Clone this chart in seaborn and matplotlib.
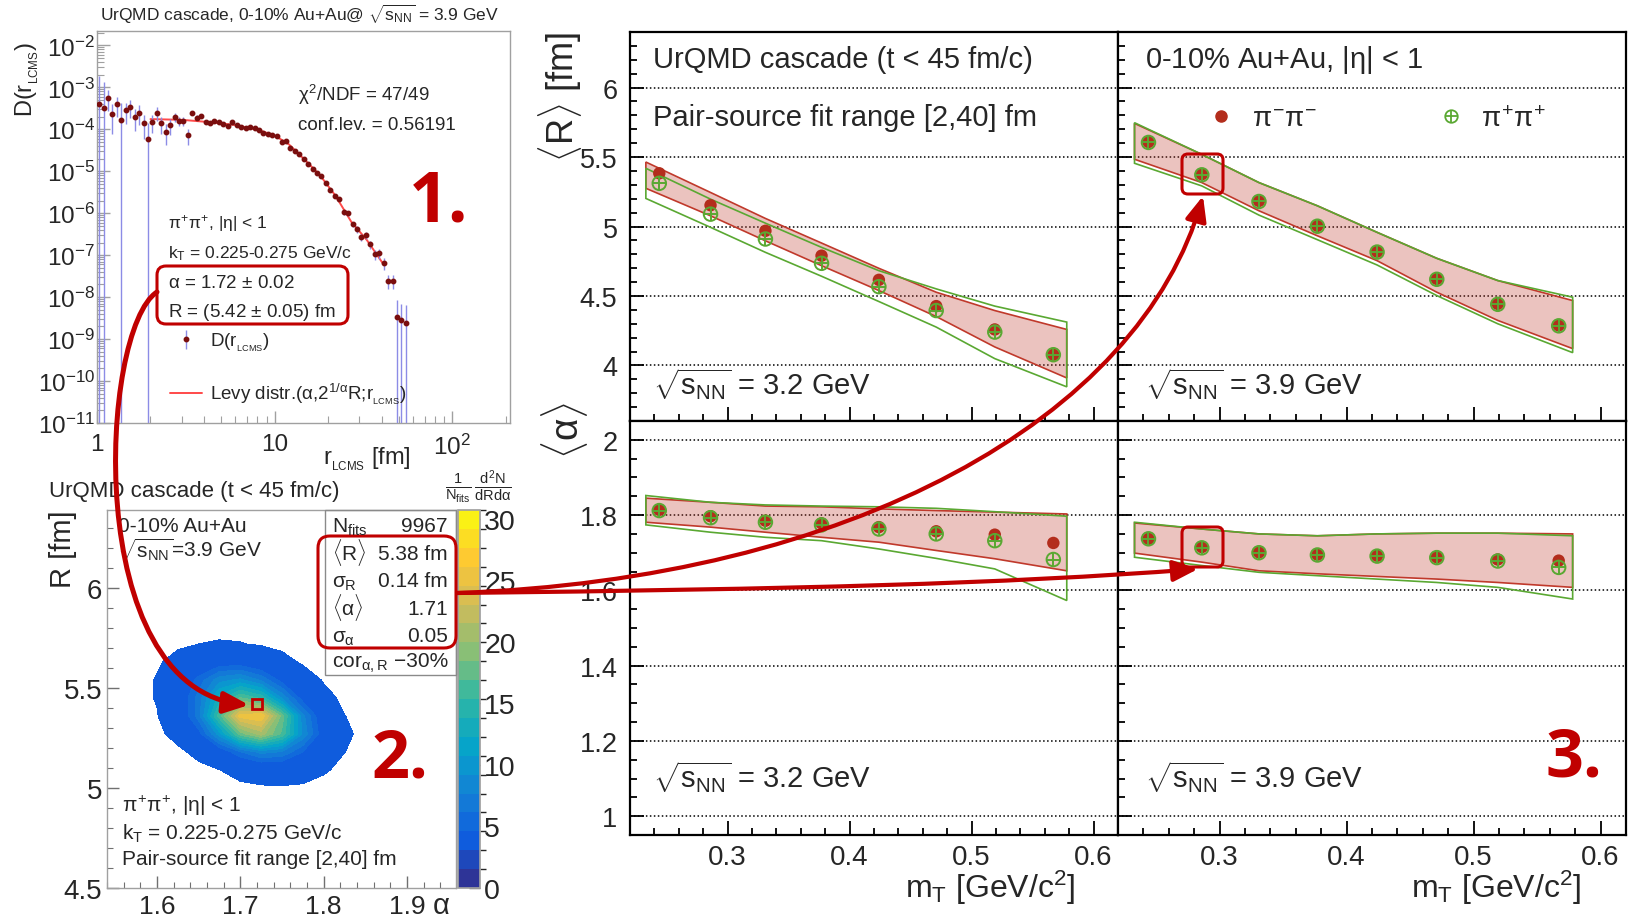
import numpy as np
import matplotlib.pyplot as plt
import seaborn as sns
from matplotlib.colors import LinearSegmentedColormap, ListedColormap, BoundaryNorm
from matplotlib.cm import ScalarMappable
from matplotlib.patches import FancyArrowPatch, FancyBboxPatch, Rectangle
from matplotlib.path import Path
from matplotlib.lines import Line2D
from matplotlib.ticker import (FixedLocator, MultipleLocator, FuncFormatter,
                               NullFormatter, LogLocator)

sns.set_theme(style="ticks")
plt.rcParams["font.family"] = ["Liberation Sans", "DejaVu Sans"]
plt.rcParams["mathtext.fontset"] = "custom"
plt.rcParams["mathtext.rm"] = "Liberation Sans"
plt.rcParams["mathtext.it"] = "Liberation Sans"
plt.rcParams["mathtext.bf"] = "Liberation Sans:bold"
plt.rcParams["mathtext.sf"] = "Liberation Sans"

W, H = 1631, 920
RED = "#c00000"
PT_RED = "#b32d1c"
BAND_RED = "#c0392b"
GREEN = "#5aa832"
MAROON = "#7a0e0e"
ERR_BLUE = "#8c8ce6"
FIT_RED = "#ff4a4a"
FRAME_GRAY = "#a0a0a0"

# ---------------- panel 1: pair-source distribution ----------------
r_lcms = [1.026, 1.09, 1.153, 1.22, 1.29, 1.371, 1.45, 1.535, 1.63, 1.725,
          1.832, 1.94, 2.05, 2.17, 2.30, 2.44, 2.58, 2.73, 2.90, 3.06,
          3.26, 3.44, 3.64, 3.85, 4.09, 4.33, 4.58, 4.87, 5.15, 5.45,
          5.78, 6.12, 6.48, 6.88, 7.28, 7.70, 8.18, 8.65, 9.15, 9.72,
          10.28, 10.93, 11.56, 12.23, 12.94, 13.74, 14.53, 15.37, 16.34, 17.28,
          18.28, 19.42, 20.55, 21.73, 23.08, 24.43, 25.83, 27.45, 29.04, 30.71,
          32.63, 34.51, 36.51, 38.80, 41.04, 43.41, 46.1, 48.8, 51.6, 54.6]
D_vals = [3.94e-4, 3.28e-4, 5.68e-4, 2.36e-4, 3.94e-4, 1.67e-4, 2.83e-4, 3.47e-4, 2.0e-4, 2.49e-4,
          1.39e-4, 5.78e-5, 1.50e-4, 2.49e-4, 1.39e-4, 8.8e-5, 1.24e-4, 2.0e-4, 1.58e-4, 1.58e-4,
          7.33e-5, 2.49e-4, 1.90e-4, 2.08e-4, 1.50e-4, 1.44e-4, 1.55e-4, 1.52e-4, 1.32e-4, 1.20e-4,
          1.52e-4, 1.24e-4, 1.12e-4, 1.10e-4, 1.12e-4, 1.10e-4, 9.46e-5, 8.33e-5, 7.89e-5, 7.2e-5,
          6.94e-5, 5.08e-5, 5.27e-5, 3.53e-5, 3.05e-5, 2.54e-5, 2.0e-5, 1.47e-5, 1.12e-5, 8.96e-6,
          7.74e-6, 5.37e-6, 3.53e-6, 2.59e-6, 2.15e-6, 1.04e-6, 1.0e-6, 5.47e-7, 4.16e-7, 2.64e-7,
          2.99e-7, 1.83e-7, 1.06e-7, 1.12e-7, 6.34e-8, 2.45e-8, 2.45e-8, 3.4e-9, 2.88e-9, 2.45e-9]
D_err = [1.5e-3, 1.0e-3, 3.0e-4, 1.6e-4, 2.0e-4, 2.5e-4, 1.5e-4, 1.6e-4, 1.1e-4, 1.2e-4,
         8e-5, 8e-5, 7e-5, 9e-5, 6e-5, 4.5e-5, 5e-5, 5e-5, 4e-5, 3.5e-5,
         3e-5, 3e-5, 2.5e-5, 2.2e-5, 1.8e-5, 1.5e-5, 1.4e-5, 1.2e-5, 1.0e-5, 9e-6,
         9e-6, 7e-6, 6e-6, 6e-6, 5e-6, 5e-6, 4e-6, 4e-6, 3.5e-6, 3e-6,
         3e-6, 2.5e-6, 2.5e-6, 1.8e-6, 1.6e-6, 1.4e-6, 1.1e-6, 9e-7, 7e-7, 6e-7,
         5e-7, 4e-7, 3e-7, 2.5e-7, 2.2e-7, 1.3e-7, 1.3e-7, 8e-8, 7e-8, 5e-8,
         6e-8, 4e-8, 3e-8, 3e-8, 2e-8, 9e-9, 9e-9, 5e-9, 4e-9, 4e-9]
fit_r = [2.0, 3.0, 4.0, 5.0, 6.0, 8.0, 10.0, 12.0, 15.0, 18.0, 22.0, 27.0, 33.0, 41.0]
fit_D = [1.75e-4, 1.68e-4, 1.52e-4, 1.38e-4, 1.26e-4, 9.8e-5, 7.1e-5, 4.4e-5, 1.75e-5,
         8.0e-6, 2.6e-6, 6.2e-7, 2.3e-7, 6.0e-8]

# ---------------- panel 2: distribution of fit results ----------------
alpha_grid = [1.575, 1.600, 1.625, 1.650, 1.675, 1.700, 1.725, 1.750, 1.775, 1.800, 1.825, 1.850, 1.875]
R_grid = [4.91, 5.00, 5.09, 5.18, 5.27, 5.36, 5.45, 5.54, 5.63, 5.72, 5.81]
density = [
    [0, 0, 0, 0, 0, 0, 0, 0, 0, 0, 0, 0, 0],
    [0, 0, 0, 0.01, 0.05, 0.13, 0.24, 0.29, 0.24, 0.13, 0.05, 0.01, 0],
    [0, 0, 0.03, 0.14, 0.48, 1.12, 1.76, 1.86, 1.33, 0.64, 0.21, 0.04, 0],
    [0, 0.03, 0.20, 0.89, 2.90, 6.00, 8.20, 7.50, 4.60, 1.90, 0.52, 0.09, 0],
    [0, 0.17, 1.00, 3.80, 10.0, 17.6, 20.7, 16.5, 8.90, 3.20, 0.78, 0.13, 0],
    [0, 0.41, 2.07, 6.93, 16.2, 25.2, 26.0, 17.8, 8.20, 2.50, 0.53, 0.08, 0],
    [0, 0.60, 2.40, 6.80, 13.0, 17.0, 15.0, 9.00, 3.70, 1.00, 0.20, 0.03, 0],
    [0, 0.60, 2.26, 5.20, 8.60, 9.60, 7.40, 3.90, 1.40, 0.38, 0.06, 0, 0],
    [0, 0.31, 1.02, 2.24, 3.35, 3.35, 2.24, 1.02, 0.31, 0.06, 0, 0, 0],
    [0, 0.09, 0.26, 0.50, 0.65, 0.57, 0.33, 0.13, 0.03, 0, 0, 0, 0],
    [0, 0, 0, 0, 0, 0, 0, 0, 0, 0, 0, 0, 0],
]
fit_alpha, fit_R = 1.72, 5.42
cbar_max = 30.7
stat_labels = [r"N$_{\rm fits}$", r"$\langle R\rangle$", r"$\sigma_{R}$",
               r"$\langle\alpha\rangle$", r"$\sigma_{\alpha}$", r"cor$_{\alpha,R}$"]
stat_values = ["9967", "5.38 fm", "0.14 fm", "1.71", "0.05", "\u221230%"]

# ---------------- panel 3: mT dependence ----------------
mT = [0.244, 0.286, 0.331, 0.377, 0.424, 0.471, 0.519, 0.567]
band_mT = [0.233, 0.286, 0.331, 0.377, 0.424, 0.471, 0.519, 0.578]

R_pim_32 = [5.383, 5.153, 4.969, 4.790, 4.616, 4.427, 4.259, 4.077]
R_pip_32 = [5.311, 5.089, 4.910, 4.735, 4.567, 4.395, 4.240, 4.077]
R_pim_39 = [5.608, 5.376, 5.184, 5.005, 4.819, 4.623, 4.443, 4.288]
R_pip_39 = [5.605, 5.372, 5.180, 5.002, 4.816, 4.620, 4.440, 4.285]
a_pim_32 = [1.814, 1.797, 1.785, 1.778, 1.768, 1.757, 1.748, 1.726]
a_pip_32 = [1.812, 1.793, 1.781, 1.774, 1.763, 1.750, 1.732, 1.682]
a_pim_39 = [1.737, 1.715, 1.701, 1.695, 1.692, 1.688, 1.682, 1.679]
a_pip_39 = [1.737, 1.713, 1.700, 1.694, 1.691, 1.687, 1.678, 1.661]

R32_red_hi = [5.464, 5.245, 5.058, 4.881, 4.699, 4.527, 4.395, 4.259]
R32_red_lo = [5.275, 5.077, 4.897, 4.718, 4.539, 4.352, 4.133, 3.910]
R32_grn_hi = [5.419, 5.197, 5.024, 4.850, 4.682, 4.551, 4.427, 4.312]
R32_grn_lo = [5.202, 4.994, 4.814, 4.642, 4.460, 4.276, 4.049, 3.846]
R39_red_hi = [5.742, 5.519, 5.316, 5.149, 4.958, 4.771, 4.611, 4.467]
R39_red_lo = [5.484, 5.316, 5.113, 4.933, 4.754, 4.527, 4.324, 4.121]
R39_grn_hi = [5.747, 5.519, 5.316, 5.149, 4.958, 4.771, 4.611, 4.491]
R39_grn_lo = [5.455, 5.292, 5.082, 4.905, 4.723, 4.503, 4.300, 4.092]
a32_red_hi = [1.845, 1.834, 1.824, 1.822, 1.8165, 1.812, 1.808, 1.803]
a32_red_lo = [1.781, 1.768, 1.7545, 1.741, 1.728, 1.706, 1.684, 1.652]
a32_grn_hi = [1.852, 1.834, 1.827, 1.824, 1.822, 1.818, 1.809, 1.797]
a32_grn_lo = [1.774, 1.7545, 1.741, 1.732, 1.710, 1.685, 1.657, 1.573]
a39_red_hi = [1.779, 1.763, 1.750, 1.745, 1.750, 1.752, 1.752, 1.750]
a39_red_lo = [1.699, 1.675, 1.652, 1.644, 1.637, 1.630, 1.621, 1.608]
a39_grn_hi = [1.781, 1.763, 1.750, 1.745, 1.750, 1.752, 1.752, 1.745]
a39_grn_lo = [1.688, 1.666, 1.648, 1.639, 1.630, 1.621, 1.608, 1.577]

fig = plt.figure(figsize=(W / 100, H / 100), dpi=100)


def add_axes(x0, y0, x1, y1, **kw):
    return fig.add_axes([x0 / W, 1 - y1 / H, (x1 - x0) / W, (y1 - y0) / H], **kw)


# ---------------- panel 1 ----------------
ax1 = add_axes(97, 32, 510, 424)
ax1.set_xscale("log")
ax1.set_yscale("log")
err_lo = [d - 1e-13 if e >= d else e for d, e in zip(D_vals, D_err)]
eb = ax1.errorbar(r_lcms, D_vals, yerr=[err_lo, D_err], fmt="o", ms=3.2, color=MAROON,
                  ecolor=ERR_BLUE, elinewidth=1, capsize=0, zorder=3)
sns.lineplot(x=fit_r, y=fit_D, ax=ax1, color=FIT_RED, linewidth=1.4, estimator=None,
             sort=False, zorder=2)
ax1.set_xlim(1, 211)
ax1.set_ylim(1e-11, 2.2e-2)
ax1.set(xlabel="", ylabel="")
ax1.xaxis.set_major_locator(FixedLocator([1, 10, 100]))
ax1.xaxis.set_major_formatter(FuncFormatter(
    lambda v, _: {1: "1", 10: "10"}.get(int(round(v)), r"$10^{2}$")))
ax1.xaxis.set_minor_locator(LogLocator(base=10, subs=np.arange(2, 10), numticks=20))
ax1.xaxis.set_minor_formatter(NullFormatter())
ax1.yaxis.set_major_locator(FixedLocator([10.0 ** k for k in range(-11, -1)]))
ax1.yaxis.set_major_formatter(FuncFormatter(
    lambda v, _: r"$10^{%d}$" % int(round(np.log10(v)))))
ax1.yaxis.set_minor_locator(LogLocator(base=10, subs=np.arange(2, 10), numticks=30))
ax1.yaxis.set_minor_formatter(NullFormatter())
ax1.tick_params(which="both", direction="in", color=FRAME_GRAY, labelsize=17.5)
ax1.tick_params(which="major", length=9, width=1)
ax1.tick_params(which="minor", length=5, width=0.8)
ax1.tick_params(axis="x", pad=7.5)
ax1.tick_params(axis="y", pad=1.5)
for s in ax1.spines.values():
    s.set_color(FRAME_GRAY)
    s.set_linewidth(1)
ax1.legend([eb, Line2D([], [], color=FIT_RED, lw=1.4)],
           [r"D(r$_{_{\rm LCMS}}$)", r"Levy distr.($\alpha$,2$^{1/\alpha}$R;r$_{_{\rm LCMS}}$)"],
           loc="upper left", bbox_to_anchor=(170 / W, 1 - 332 / H),
           bbox_transform=fig.transFigure, frameon=False, fontsize=13.5,
           handlelength=1.7, handletextpad=0.45, labelspacing=1.5,
           borderpad=0, borderaxespad=0)

# ---------------- panel 2 ----------------
ax2 = add_axes(107, 511, 456, 889)
cax = add_axes(458, 511, 480, 889)

bird_stops = [0.0, 0.125, 0.25, 0.375, 0.5, 0.625, 0.75, 0.875, 1.0]
bird_rgb = [(0.2082, 0.1664, 0.5293), (0.0592, 0.3599, 0.8684), (0.0780, 0.5041, 0.8385),
            (0.0232, 0.6419, 0.7914), (0.1802, 0.7178, 0.6425), (0.5301, 0.7492, 0.4662),
            (0.8186, 0.7328, 0.3499), (0.9956, 0.7862, 0.1968), (0.9764, 0.9832, 0.0539)]
bird = LinearSegmentedColormap.from_list("bird", list(zip(bird_stops, bird_rgb)))
bounds = np.linspace(0, cbar_max, 21)
band_colors = bird((np.arange(20) + 0.5) / 20)
cmap = ListedColormap(band_colors)
norm = BoundaryNorm(bounds, cmap.N)

levels = [0.5] + list(bounds[2:])
layer_colors = [band_colors[2]] + list(band_colors[2:])
ax2.contourf(alpha_grid, R_grid, density, levels=levels, colors=layer_colors, zorder=1)
ax2.plot([fit_alpha], [fit_R], marker="s", ms=7.5, mfc="none", mec=RED, mew=2, zorder=3)
ax2.set_xlim(1.54, 1.959)
ax2.set_ylim(4.5, 6.39)
ax2.xaxis.set_major_locator(MultipleLocator(0.1))
ax2.xaxis.set_minor_locator(MultipleLocator(0.02))
ax2.yaxis.set_major_locator(MultipleLocator(0.5))
ax2.yaxis.set_minor_locator(MultipleLocator(0.1))
ax2.xaxis.set_major_formatter(FuncFormatter(lambda v, _: f"{v:g}"))
ax2.yaxis.set_major_formatter(FuncFormatter(lambda v, _: f"{v:g}"))
ax2.tick_params(which="both", direction="in", color="#707070", labelsize=20)
ax2.tick_params(which="major", length=8.5, width=1)
ax2.tick_params(which="minor", length=4, width=0.8)
ax2.tick_params(axis="x", pad=4, labelsize=19)
ax2.tick_params(axis="y", pad=3.5)
for s in ax2.spines.values():
    s.set_color(FRAME_GRAY)
    s.set_linewidth(1)

cb = fig.colorbar(ScalarMappable(norm=norm, cmap=cmap), cax=cax, ticks=range(0, 31, 5))
cb.outline.set_edgecolor(FRAME_GRAY)
cax.tick_params(direction="in", length=8, width=1, color="#555555", labelsize=20.5, pad=3)

# ---------------- panel 3 ----------------
axTL = add_axes(630, 33, 1118, 422)
axTR = add_axes(1118, 33, 1626, 422)
axBL = add_axes(630, 422, 1118, 836)
axBR = add_axes(1118, 422, 1626, 836)


def draw_mt(ax, y_pim, y_pip, red_lo, red_hi, grn_lo, grn_hi):
    poly_x = band_mT + band_mT[::-1]
    ax.fill(poly_x, red_lo + red_hi[::-1], facecolor=BAND_RED, alpha=0.3,
            edgecolor="none", zorder=1)
    ax.fill(poly_x, red_lo + red_hi[::-1], facecolor="none", edgecolor=BAND_RED,
            lw=1.2, zorder=2)
    ax.fill(poly_x, grn_lo + grn_hi[::-1], facecolor="none", edgecolor=GREEN,
            lw=1.2, zorder=2)
    sns.scatterplot(x=mT, y=y_pim, ax=ax, color=PT_RED, s=80, edgecolor="none",
                    zorder=4, legend=False)
    ax.scatter(mT, y_pip, s=95, facecolors="none", edgecolors=GREEN, linewidths=1.4, zorder=5)
    ax.scatter(mT, y_pip, s=95, marker="+", color=GREEN, linewidths=1.4, zorder=5)


def style_mt(ax, ylim, major, minor, xlabels, ylabels):
    ax.set(xlabel="", ylabel="")
    ax.set_xlim(0.22, 0.62)
    ax.set_ylim(*ylim)
    ax.xaxis.set_major_locator(MultipleLocator(0.1))
    ax.xaxis.set_minor_locator(MultipleLocator(0.02))
    ax.yaxis.set_major_locator(MultipleLocator(major))
    ax.yaxis.set_minor_locator(MultipleLocator(minor))
    ax.xaxis.set_major_formatter(FuncFormatter(lambda v, _: f"{v:g}"))
    ax.yaxis.set_major_formatter(FuncFormatter(lambda v, _: f"{v:g}"))
    ax.tick_params(which="both", direction="in", color="black", width=1.3)
    ax.tick_params(which="major", length=10)
    ax.tick_params(which="minor", length=5)
    ax.tick_params(axis="x", labelsize=20, pad=6.5, labelbottom=xlabels)
    ax.tick_params(axis="y", labelsize=19.5, pad=9, labelleft=ylabels)
    ax.grid(False)
    ax.grid(axis="y", which="major", color="black", ls=(0, (1, 1.6)), lw=1.1)
    for s in ax.spines.values():
        s.set_color("black")
        s.set_linewidth(1.6)


draw_mt(axTL, R_pim_32, R_pip_32, R32_red_lo, R32_red_hi, R32_grn_lo, R32_grn_hi)
draw_mt(axTR, R_pim_39, R_pip_39, R39_red_lo, R39_red_hi, R39_grn_lo, R39_grn_hi)
draw_mt(axBL, a_pim_32, a_pip_32, a32_red_lo, a32_red_hi, a32_grn_lo, a32_grn_hi)
draw_mt(axBR, a_pim_39, a_pip_39, a39_red_lo, a39_red_hi, a39_grn_lo, a39_grn_hi)
style_mt(axTL, (3.6, 6.4), 0.5, 0.1, False, True)
style_mt(axTR, (3.6, 6.4), 0.5, 0.1, False, False)
style_mt(axBL, (0.95, 2.05), 0.2, 0.05, True, True)
style_mt(axBR, (0.95, 2.05), 0.2, 0.05, True, False)

h_red = Line2D([], [], marker="o", ls="none", color=PT_RED, ms=8)
h_grn = (Line2D([], [], marker="o", ls="none", mfc="none", mec=GREEN, ms=9, mew=1.3),
         Line2D([], [], marker="+", ls="none", color=GREEN, ms=9, mew=1.3))
axTR.legend([h_red, h_grn], [r"$\pi^{-}\pi^{-}$", r"$\pi^{+}\pi^{+}$"], ncol=2,
            loc="center", bbox_to_anchor=(1377 / W, 1 - 120 / H),
            bbox_transform=fig.transFigure, frameon=False, fontsize=20,
            handlelength=1.0, handletextpad=0.6, columnspacing=4.3)

# ---------------- overlay: labels, boxes, arrows ----------------
ov = fig.add_axes([0, 0, 1, 1], zorder=10)
ov.set_xlim(0, W)
ov.set_ylim(H, 0)
ov.axis("off")
ov.patch.set_visible(False)


def put(x, yc, s, size, ha="left", **kw):
    ov.text(x, yc + 0.36 * size * 100 / 72, s, fontsize=size, ha=ha, va="baseline", **kw)


big = dict(family="Open Sans", weight="bold", color=RED)

# panel 1 texts
put(299, 15, r"UrQMD cascade, 0-10% Au+Au@ $\sqrt{s_{\rm NN}}$ = 3.9 GeV", 12.5, ha="center")
put(298, 94, r"$\chi^{2}$/NDF = 47/49", 13.5)
put(298, 123, "conf.lev. = 0.56191", 13.5)
put(168, 222, r"$\pi^{+}\pi^{+}$, |$\eta$| < 1", 12.5)
put(168, 252, r"k$_{\rm T}$ = 0.225-0.275 GeV/c", 12.5)
put(168, 281, r"$\alpha$ = 1.72 $\pm$ 0.02", 13.5)
put(168, 310, r"R = (5.42 $\pm$ 0.05) fm", 13.5)
put(439, 196, "1.", 50, ha="center", **big)
ov.text(27, 80, r"D(r$_{_{\rm LCMS}}$)", rotation=90, ha="center", va="center", fontsize=17)
put(323, 456, r"r$_{_{\rm LCMS}}$ [fm]", 17)

# panel 2 texts
put(49, 489, "UrQMD cascade (t < 45 fm/c)", 16)
put(118, 525, "0-10% Au+Au", 15)
put(118, 550, r"$\sqrt{s_{\rm NN}}$=3.9 GeV", 15)
for yc, lab, val in zip([525, 553, 580, 608, 635, 660], stat_labels, stat_values):
    put(332, yc, lab, 15)
    put(448, yc, val, 15, ha="right")
ov.add_patch(Rectangle((325, 511), 131, 165, fill=False, ec="#8a8a8a", lw=1))
put(400, 754, "2.", 48, ha="center", **big)
put(122, 805, r"$\pi^{+}\pi^{+}$, |$\eta$| < 1", 15)
put(122, 832, r"k$_{\rm T}$ = 0.225-0.275 GeV/c", 15)
put(122, 858, "Pair-source fit range [2,40] fm", 15)
ov.text(63, 549, "R [fm]", rotation=90, ha="center", va="center", fontsize=21)
ov.text(441, 914, r"$\alpha$", ha="center", va="baseline", fontsize=21)
ov.text(478, 487, r"$\frac{1}{N_{\rm fits}}\,\frac{d^{2}N}{dRd\alpha}$", ha="center",
        va="center", fontsize=15)

# panel 3 texts
put(653, 58, "UrQMD cascade (t < 45 fm/c)", 21)
put(653, 115, "Pair-source fit range [2,40] fm", 21)
put(653, 385, r"$\sqrt{s_{\rm NN}}$ = 3.2 GeV", 21)
put(1145, 58, r"0-10% Au+Au, |$\eta$| < 1", 21)
put(1145, 385, r"$\sqrt{s_{\rm NN}}$ = 3.9 GeV", 21)
put(653, 778, r"$\sqrt{s_{\rm NN}}$ = 3.2 GeV", 21)
put(1145, 778, r"$\sqrt{s_{\rm NN}}$ = 3.9 GeV", 21)
put(1574, 753, "3.", 48, ha="center", **big)
ov.text(560, 97, r"$\langle R\rangle$ [fm]", rotation=90, ha="center", va="center", fontsize=26)
ov.text(565, 430, r"$\langle\alpha\rangle$", rotation=90, ha="center", va="center", fontsize=28)
put(1075, 887, r"m$_{\rm T}$ [GeV/c$^{2}$]", 23, ha="right")
put(1581, 887, r"m$_{\rm T}$ [GeV/c$^{2}$]", 23, ha="right")

# highlight boxes
for (bx, by, bw, bh, rs) in [(157, 267, 191, 58, 9), (318, 537, 138, 112, 12),
                             (1182, 155, 41, 40, 6), (1182, 528, 41, 40, 6)]:
    ov.add_patch(FancyBboxPatch((bx, by), bw, bh, boxstyle=f"round,pad=0,rounding_size={rs}",
                                fill=False, ec=RED, lw=2.2))

# connecting arrows
curve = [Path.MOVETO, Path.CURVE4, Path.CURVE4, Path.CURVE4]
arrows = [
    ([(157, 293), (100, 330), (80, 690), (249, 706)], 3.6),
    ([(457, 594), (800, 590), (1000, 585), (1198, 570)], 3.0),
    ([(457, 594), (850, 580), (1140, 420), (1203, 197)], 3.0),
]
for verts, lw in arrows:
    ov.add_patch(FancyArrowPatch(path=Path(verts, curve),
                                 arrowstyle="-|>,head_length=0.75,head_width=0.32",
                                 mutation_scale=20, lw=lw, color=RED,
                                 shrinkA=0, shrinkB=0, zorder=20))

fig.savefig("out.png", dpi=100)
